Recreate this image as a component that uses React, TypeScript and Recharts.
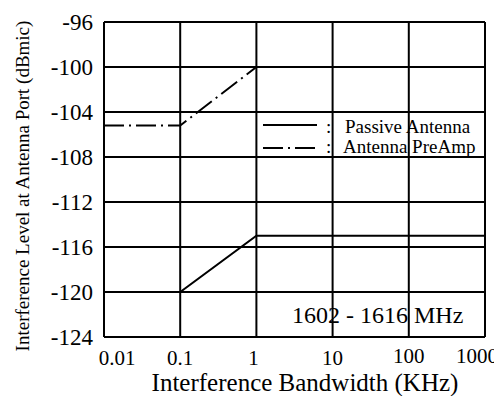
import React from "react";
import { LineChart, Line, XAxis, YAxis, CartesianGrid } from "recharts";

// Interference bandwidth (KHz), log axis
const bandwidth = [0.01, 0.1, 1, 10, 100, 1000];
// Interference level at the antenna port (dBmic)
const passiveAntenna = [-120, -120, -115, -115, -115, -115];
const antennaPreAmp = [-105.2, -105.2, -100, -100, -100, -100];

const xTicks = [0.01, 0.1, 1, 10, 100, 1000];
const yTicks = [-124, -120, -116, -112, -108, -104, -100, -96];

const seriesNames = ["Passive Antenna", "Antenna PreAmp"];
const bandLabel = "1602 - 1616 MHz";

const data = bandwidth.map((bw, i) => ({
  bw,
  passive: passiveAntenna[i],
  preamp: antennaPreAmp[i],
}));

const FONT = "'Liberation Serif', 'Times New Roman', serif";
const DASH_DOT = "20 5 2 5";

// small nudges for the x tick labels, as laid out on the original sheet
const xNudge: Record<number, number> = { 0.01: 13, 1: -3, 1000: -8 };
const yNudge: Record<number, number> = { 100: -2, 1000: -2 };

function XTick(props: any) {
  const { x, y, payload } = props;
  const v = payload.value as number;
  return (
    <text
      x={x + (xNudge[v] || 0)}
      y={y + (yNudge[v] || 0)}
      dy={15}
      textAnchor="middle"
      fontFamily={FONT}
      fontSize={21}
      fill="#000"
    >
      {String(v)}
    </text>
  );
}

function YTick(props: any) {
  const { x, y, payload } = props;
  return (
    <text
      x={x}
      y={y}
      dy={7.5}
      textAnchor="end"
      fontFamily={FONT}
      fontSize={23}
      fill="#000"
    >
      {String(payload.value)}
    </text>
  );
}

export default function App() {
  return (
    <div style={{ position: "relative", width: 494, height: 388, fontFamily: FONT }}>
      <LineChart
        width={494}
        height={388}
        data={data}
        margin={{ top: 14, right: 17, left: 0, bottom: 0 }}
      >
        <CartesianGrid stroke="#000" strokeWidth={2} horizontalValues={yTicks} verticalValues={xTicks} />
        <XAxis
          dataKey="bw"
          type="number"
          scale="log"
          domain={[0.01, 1000]}
          allowDataOverflow
          ticks={xTicks}
          interval={0}
          height={59}
          tickSize={0}
          tickMargin={13}
          axisLine={{ stroke: "#000", strokeWidth: 2 }}
          tick={<XTick />}
        />
        <YAxis
          type="number"
          domain={[-124, -96]}
          ticks={yTicks}
          interval={0}
          width={96}
          tickSize={0}
          tickMargin={11}
          axisLine={{ stroke: "#000", strokeWidth: 2 }}
          tick={<YTick />}
        />
        <Line
          dataKey="passive"
          stroke="#000"
          strokeWidth={2}
          dot={false}
          isAnimationActive={false}
        />
        <Line
          dataKey="preamp"
          stroke="#000"
          strokeWidth={2}
          strokeDasharray={DASH_DOT}
          dot={false}
          isAnimationActive={false}
        />
      </LineChart>

      {/* axis titles, legend and band note drawn over the plot */}
      <svg
        width={494}
        height={388}
        style={{ position: "absolute", left: 0, top: 0, pointerEvents: "none" }}
        fontFamily={FONT}
      >
        <text x={297} y={383} textAnchor="middle" fontSize={25} fill="#000">
          Interference Bandwidth (KHz)
        </text>
        <text
          x={21}
          y={178}
          transform="rotate(-90 21 178)"
          textAnchor="middle"
          fontSize={19}
          fill="#000"
        >
          Interference Level at Antenna Port (dBmic)
        </text>

        <line x1={255} y1={117} x2={309} y2={117} stroke="#000" strokeWidth={2} />
        <line x1={255} y1={140} x2={309} y2={140} stroke="#000" strokeWidth={2} strokeDasharray={DASH_DOT} />
        <text x={318} y={125} fontSize={19} fill="#000">:</text>
        <text x={318} y={145} fontSize={19} fill="#000">:</text>
        <text x={337} y={125} fontSize={19} fill="#000">{seriesNames[0]}</text>
        <text x={335} y={145} fontSize={19} fill="#000">{seriesNames[1]}</text>

        <text x={284} y={315} fontSize={24} fill="#000">{bandLabel}</text>
      </svg>
    </div>
  );
}
